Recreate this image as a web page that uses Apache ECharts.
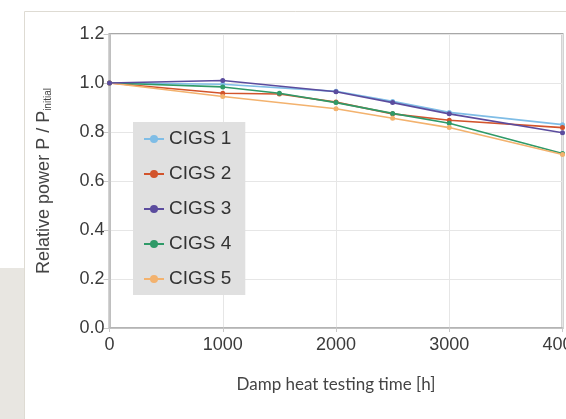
<!DOCTYPE html>
<html>
<head>
<meta charset="utf-8">
<script src="https://cdn.jsdelivr.net/npm/echarts@6/dist/echarts.min.js"></script>
<style>
html,body{margin:0;padding:0;background:#fff;}
#c{width:566px;height:419px;}
</style>
</head>
<body>
<div id="c"></div>
<script>
const seriesNames = ['CIGS 1', 'CIGS 2', 'CIGS 3', 'CIGS 4', 'CIGS 5'];
const xTicks = [0, 1000, 2000, 3000, 4000];
const yTicks = [0.0, 0.2, 0.4, 0.6, 0.8, 1.0, 1.2];

const hours1 = [0, 1000, 2000, 2500, 3000, 4000];
const cigs1  = [1.0, 0.995, 0.966, 0.925, 0.880, 0.830];
const hours2 = [0, 1000, 1500, 2000, 2500, 3000, 4000];
const cigs2  = [1.0, 0.958, 0.955, 0.922, 0.874, 0.848, 0.818];
const hours3 = [0, 1000, 2000, 2500, 3000, 4000];
const cigs3  = [1.0, 1.010, 0.964, 0.920, 0.874, 0.797];
const hours4 = [0, 1000, 1500, 2000, 2500, 3000, 4000];
const cigs4  = [1.0, 0.984, 0.958, 0.920, 0.876, 0.836, 0.712];
const hours5 = [0, 1000, 2000, 2500, 3000, 4000];
const cigs5  = [1.0, 0.945, 0.895, 0.856, 0.818, 0.708];

const colors = ['#7fbde6', '#d2542c', '#5b4c9e', '#2f9a68', '#f3b26e'];

const pairs = (xs, ys) => xs.map((x, i) => [x, ys[i]]);
const allData = [pairs(hours1, cigs1), pairs(hours2, cigs2), pairs(hours3, cigs3), pairs(hours4, cigs4), pairs(hours5, cigs5)];

const chart = echarts.init(document.getElementById('c'), null, {renderer: 'canvas'});
const option = {
  animation: false,
  backgroundColor: '#ffffff',
  color: colors,
  graphic: [
    {type: 'rect', shape: {x: 0, y: 268, width: 25, height: 151}, style: {fill: '#e8e6e1'}, z: 0},
    {type: 'line', shape: {x1: 24.5, y1: 11.5, x2: 24.5, y2: 419}, style: {stroke: '#dedbd3', lineWidth: 1}, z: 0},
    {type: 'line', shape: {x1: 24.5, y1: 11.5, x2: 566, y2: 11.5}, style: {stroke: '#dedbd3', lineWidth: 1}, z: 0}
  ],
  grid: {left: 109.5, top: 34, right: 3.5, bottom: 91, show: true, borderColor: '#a8a8a8', borderWidth: 2,
    backgroundColor: 'transparent', containLabel: false, outerBoundsMode: 'none'},
  legend: {
    orient: 'vertical', left: 133, top: 122,
    backgroundColor: '#e0e0e0', borderRadius: 0,
    padding: [7, 14, 6, 10],
    itemWidth: 20, itemHeight: 10, itemGap: 15,
    textStyle: {fontFamily: 'Liberation Sans, Arial, sans-serif', fontSize: 19, color: '#333', lineHeight: 20},
    data: seriesNames
  },
  xAxis: {
    type: 'value', min: xTicks[0], max: xTicks[xTicks.length - 1], interval: 1000,
    name: 'Damp heat testing time [h]', nameLocation: 'middle', nameGap: 48,
    nameTextStyle: {fontFamily: 'Lato, Open Sans, sans-serif', fontSize: 17, color: '#444'},
    axisLine: {show: true, lineStyle: {color: '#b8b8b8', width: 1.5}},
    axisTick: {show: true, length: 4, lineStyle: {color: '#c8c8c8'}},
    axisLabel: {fontFamily: 'Liberation Sans, Arial, sans-serif', fontSize: 18, color: '#3a3a3a', margin: 8,
      hideOverlap: false, showMaxLabel: true, formatter: v => xTicks.includes(v) ? String(v) : ''},
    splitLine: {show: true, lineStyle: {color: '#e6e6e6', width: 1}}
  },
  yAxis: {
    type: 'value', min: yTicks[0], max: yTicks[yTicks.length - 1], interval: 0.2,
    name: '{a|Relative power P / P}{b|initial}', nameLocation: 'middle', nameGap: 56,
    nameTextStyle: {
      rich: {
        a: {fontFamily: 'Liberation Sans, Arial, sans-serif', fontSize: 18, color: '#444'},
        b: {fontFamily: 'Liberation Sans, Arial, sans-serif', fontSize: 10, color: '#444', verticalAlign: 'bottom', padding: [7, 0, 0, 0]}
      }
    },
    axisLine: {show: true, lineStyle: {color: '#b8b8b8', width: 1.5}},
    axisTick: {show: true, length: 6, lineStyle: {color: '#c8c8c8'}},
    axisLabel: {fontFamily: 'Liberation Sans, Arial, sans-serif', fontSize: 18, color: '#3a3a3a', margin: 5,
      formatter: v => v.toFixed(1)},
    splitLine: {show: true, lineStyle: {color: '#e6e6e6', width: 1}}
  },
  series: seriesNames.map((n, i) => ({
    name: n, type: 'line', data: allData[i],
    symbol: 'circle', symbolSize: 5, showSymbol: true,
    lineStyle: {width: 1.6, color: colors[i]},
    itemStyle: {color: colors[i]},
    z: 3 + (i === 2 ? 1 : 0)
  }))
};
chart.setOption(option);
</script>
</body>
</html>
